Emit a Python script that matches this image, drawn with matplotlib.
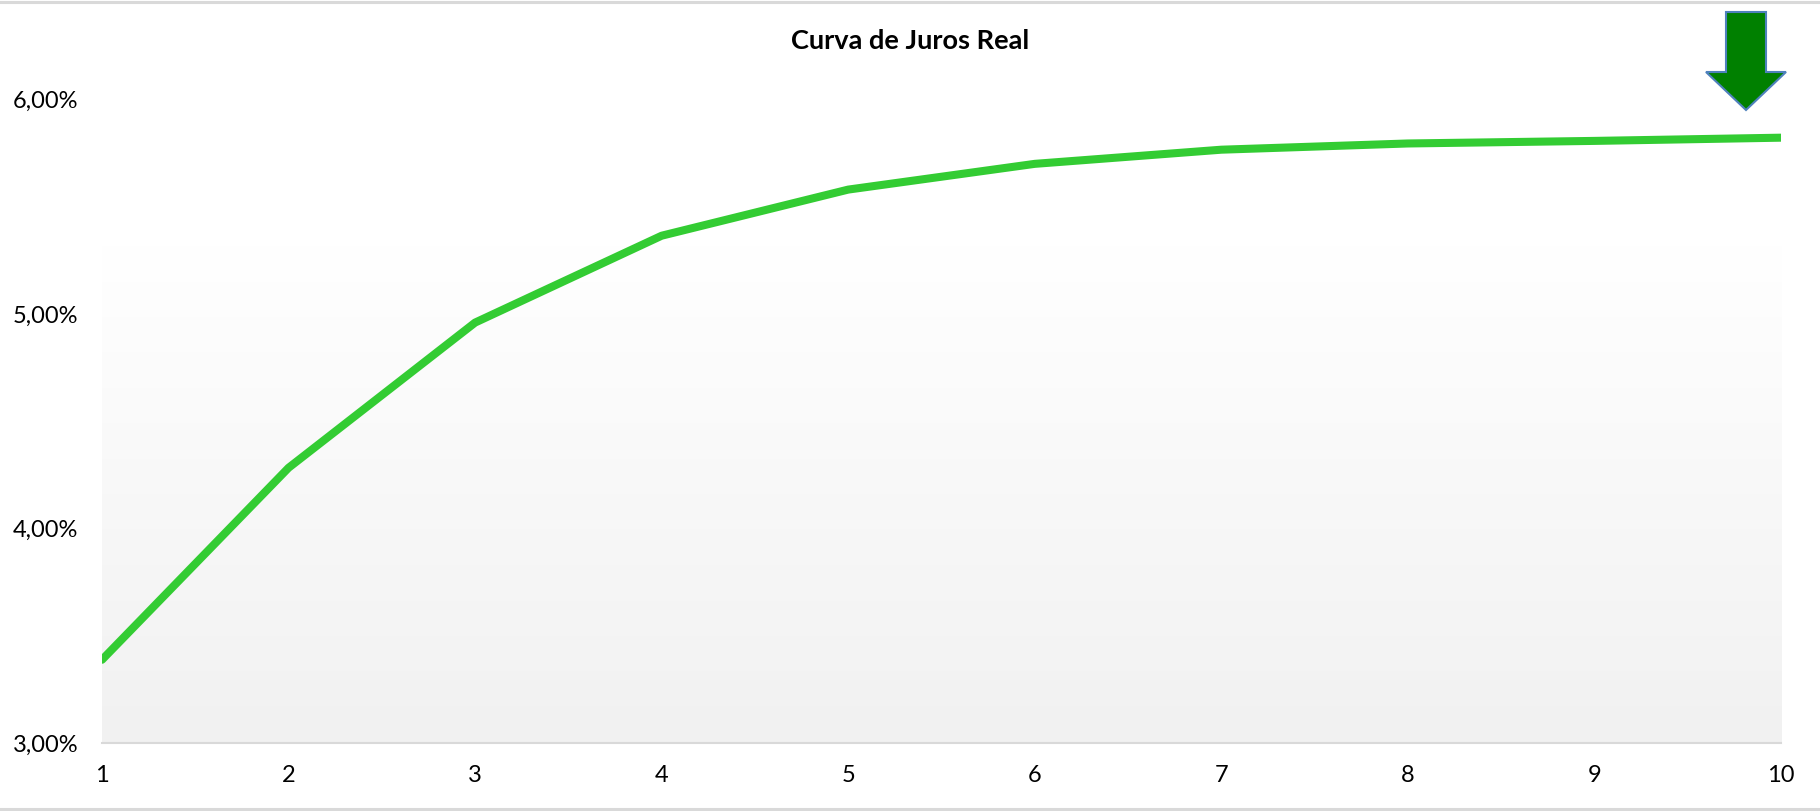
import numpy as np
import matplotlib
matplotlib.use("Agg")
import matplotlib.pyplot as plt
from matplotlib.patches import Polygon
from matplotlib.lines import Line2D
from matplotlib.ticker import FuncFormatter

plt.rcParams["font.family"] = ["Lato", "DejaVu Sans"]

# ── dados ───────────────────────────────────────────
anos = [1, 2, 3, 4, 5, 6, 7, 8, 9, 10]
juros_real = [3.388, 4.283, 4.960, 5.365, 5.580, 5.700, 5.766, 5.795, 5.807, 5.822]
y_ticks = [3, 4, 5, 6]
titulo = "Curva de Juros Real"

W, H = 1820, 811
fig = plt.figure(figsize=(W / 100, H / 100), dpi=100)

# área do gráfico em pixels (esq, topo, dir, base)
L, T, R, B = 102, 14, 1781, 743
ax = fig.add_axes([L / W, 1 - B / H, (R - L) / W, (B - T) / H])
ax.set_xlim(1, 10)
ax.set_ylim(3, 3 + (B - T) / 214.5)

# fundo com degradê (branco -> cinza claro)
g_top = (B - 245) / (B - T)
grad = np.linspace(0.0, 1.0, 256).reshape(-1, 1)
cmap = matplotlib.colors.LinearSegmentedColormap.from_list("g", ["#f1f1f1", "#ffffff"])
ax.imshow(grad, cmap=cmap, origin="lower", aspect="auto",
          extent=(0, 1, 0, g_top), transform=ax.transAxes, zorder=0)

ax.plot(anos, juros_real, color="#33cc33", lw=5.8,
        solid_capstyle="round", solid_joinstyle="round", zorder=3)

for s in ["top", "right", "left"]:
    ax.spines[s].set_visible(False)
ax.spines["bottom"].set_color("#d9d9d9")
ax.spines["bottom"].set_linewidth(1.5)
ax.spines["bottom"].set_zorder(4)

ax.set_xticks(anos)
ax.set_yticks(y_ticks)
ax.yaxis.set_major_formatter(FuncFormatter(lambda v, p: f"{v:.2f}".replace(".", ",") + "%"))
ax.tick_params(axis="both", length=0, labelsize=17, colors="#000000")
ax.tick_params(axis="x", pad=16)
ax.tick_params(axis="y", pad=17)

fig.text(910 / W, 1 - 41 / H, titulo, ha="center", va="center",
         fontsize=19.5, fontweight="bold")

# seta verde
seta = [(1726, 12), (1766, 12), (1766, 72), (1786, 72), (1746, 110),
        (1706, 72), (1726, 72)]
seta = [(x / W, 1 - y / H) for x, y in seta]
fig.add_artist(Polygon(seta, closed=True, facecolor="#008000",
                       edgecolor="#4f81bd", lw=1.5, transform=fig.transFigure))

# bordas do gráfico
for yb in [1 - 1.5 / H, 1 - 809 / H]:
    fig.add_artist(Line2D([0, 1], [yb, yb], color="#d9d9d9", lw=2.2,
                          transform=fig.transFigure))

fig.savefig("out.png", dpi=100)
